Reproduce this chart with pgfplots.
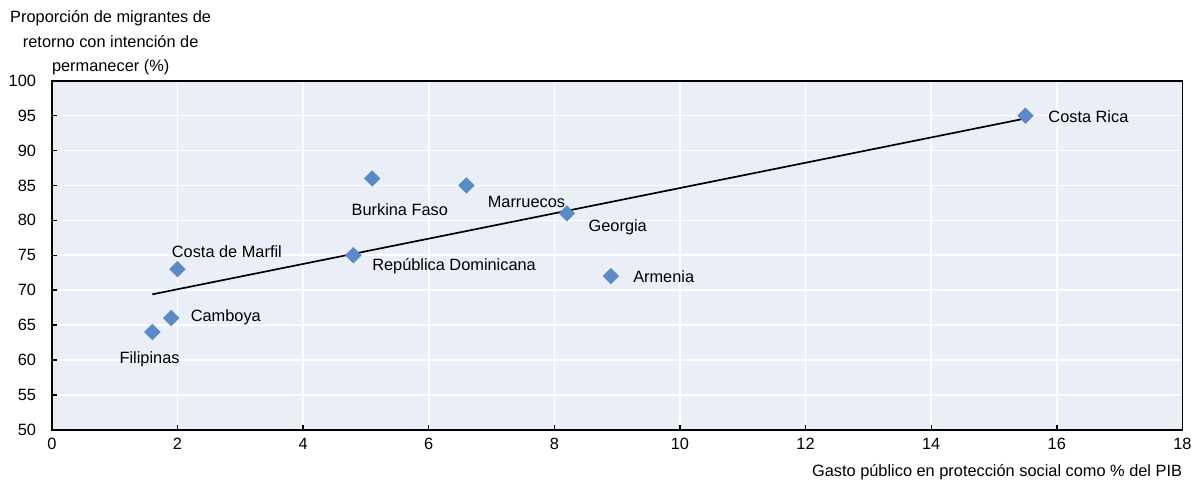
\documentclass[border=0pt]{standalone}
\usepackage{pgfplots}
\pgfplotsset{compat=1.18}
\usepackage{fontspec}
\setmainfont{Liberation Sans}
\definecolor{bgblue}{HTML}{EAEEF7}
\definecolor{ptblue}{HTML}{5A8AC8}
\begin{document}
\begin{tikzpicture}
\fontsize{8.2}{9.5}\selectfont
\begin{axis}[
    scale only axis,
    width=567pt, height=175pt,
    xmin=0, xmax=18, ymin=50, ymax=100,
    xtick={0,2,...,18},
    ytick={50,55,...,100},
    axis background/.style={fill=bgblue},
    grid=major,
    major grid style={white, line width=0.8pt},
    axis line style={black, line width=0.9pt},
    tick pos=left,
    tick align=inside,
    major tick length=2.5pt,
    tick style={black, line width=0.7pt},
    tick label style={font=\fontsize{8.2}{9.5}\selectfont},
    /pgf/number format/assume math mode=true,
    yticklabel style={xshift=-5pt},
    xticklabel style={yshift=-1.5pt},
    xlabel={Gasto público en protección social como \% del PIB},
    xlabel style={at={(rel axis cs:1,0)}, anchor=north east, yshift=-17pt, inner sep=0pt},
    clip=false,
]
\addplot[only marks, mark=square*, mark size=2.7pt, mark options={rotate=45, fill=ptblue, draw=ptblue}]
coordinates {(15.5,95) (5.1,86) (6.6,85) (8.2,81) (8.9,72) (4.8,75) (2.0,73) (1.9,66) (1.6,64)};
\addplot[black, line width=0.85pt, no marks] coordinates {(1.6,69.4) (15.5,94.6)};
\begin{scope}[every node/.style={inner sep=0pt, font=\fontsize{8.2}{9.5}\selectfont}]
\node[anchor=west] at (axis cs:15.86,94.86) {Costa Rica};
\node at (axis cs:5.54,81.57) {Burkina Faso};
\node at (axis cs:7.556,82.57) {Marruecos};
\node[anchor=west] at (axis cs:8.54,79.0) {Georgia};
\node[anchor=west] at (axis cs:9.25,71.86) {Armenia};
\node[anchor=west] at (axis cs:5.095,73.43) {República Dominicana};
\node[anchor=west] at (axis cs:1.905,75.57) {Costa de Marfil};
\node[anchor=west] at (axis cs:2.206,66.14) {Camboya};
\node at (axis cs:1.556,60.14) {Filipinas};
\end{scope}
\node[anchor=south, align=center, inner sep=0pt, font=\fontsize{8.2}{12.5}\selectfont]
  at ([xshift=29.5pt, yshift=2.5pt]rel axis cs:0,1)
  {Proporción de migrantes de\\retorno con intención de\\permanecer (\%)};
\end{axis}
\path (current axis.south west) ++(-26pt,-25.5pt) coordinate (a);
\path (current axis.north east) ++(5.5pt,40.5pt) coordinate (b);
\path (a) rectangle (b);
\end{tikzpicture}
\end{document}
